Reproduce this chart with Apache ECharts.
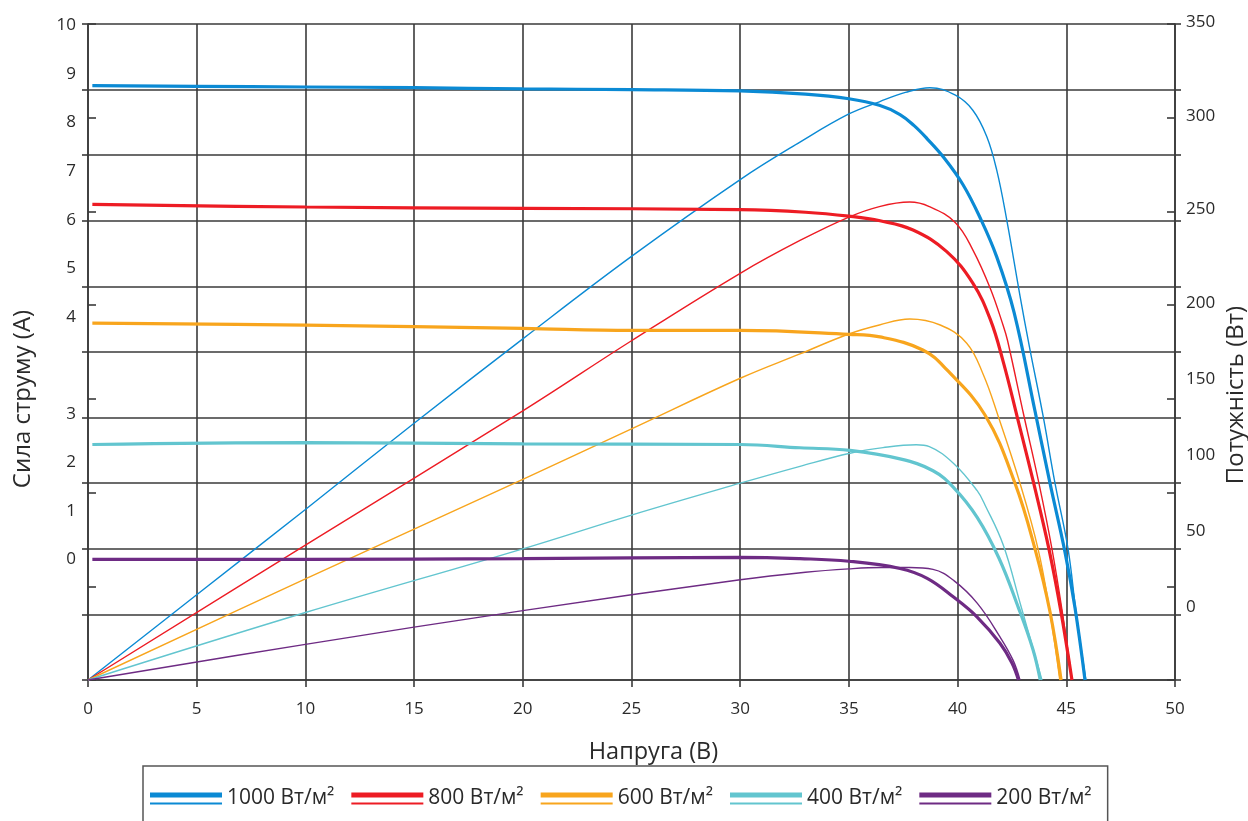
<!DOCTYPE html>
<html><head><meta charset="utf-8">
<script src="https://cdn.jsdelivr.net/npm/echarts@6/dist/echarts.min.js"></script>
<style>html,body{margin:0;padding:0;background:#fff}#c{width:1248px;height:821px}</style>
</head><body><div id="c"></div><script>
// ---- data ----
const irradiance = ['1000 Вт/м²', '800 Вт/м²', '600 Вт/м²', '400 Вт/м²', '200 Вт/м²'];
const colors = ['#0b8ad4', '#ed1c24', '#f8a51d', '#62c5cf', '#6e2b84'];

// current (A) vs voltage (V)
const current1000 = [[0.2,9.06],[5,9.05],[10,9.04],[15,9.03],[20,9.01],[25,9.0],[30,8.98],[33,8.93],[35,8.86],[36.4,8.76],[37.35,8.62],[38.0,8.45],[38.6,8.25],[39.4,7.95],[40.25,7.55],[41.03,7.05],[41.8,6.45],[42.6,5.6],[43.56,4.1],[44.25,3.0],[44.94,1.95],[45.4,1.1],[45.86,0]];
const current800 = [[0.2,7.25],[10,7.21],[20,7.19],[30,7.17],[33,7.13],[35,7.07],[36.43,7.0],[37.95,6.86],[39.5,6.53],[40.7,6.05],[41.5,5.5],[42.1,4.85],[42.75,4.0],[43.5,3.0],[44.2,2.0],[44.75,1.05],[45.26,0]];
const current600 = [[0.2,5.44],[10,5.41],[20,5.36],[25,5.33],[30,5.33],[35,5.27],[36.43,5.23],[38.4,5.03],[39.5,4.73],[41.26,4.04],[42.64,3.0],[43.56,2.0],[44.25,1.04],[44.76,0]];
const current400 = [[0.2,3.59],[10,3.62],[20,3.6],[30,3.59],[32.75,3.54],[35.05,3.5],[37.35,3.37],[38.87,3.19],[39.83,2.93],[40.9,2.48],[41.9,1.86],[42.8,1.1],[43.47,0.46],[43.8,0]];
const current200 = [[0.2,1.84],[10,1.84],[20,1.85],[30,1.87],[32.75,1.85],[35,1.81],[37.35,1.7],[38.6,1.55],[39.83,1.26],[40.9,0.96],[41.95,0.56],[42.5,0.26],[42.8,0]];

// power (W) vs voltage (V)
const power1000 = [[0,0],[5,45.5],[10,91],[15,137],[20,182],[25,226],[30,267],[32.75,287],[35,302],[36.4,308.5],[37.6,313.5],[38.73,316],[39.9,312],[40.7,304],[41.34,290],[41.8,272],[42.26,245.5],[42.87,205],[43.3,178],[43.93,141],[44.48,105],[45.08,70],[45.45,36],[45.9,0]];
const power800 = [[0,0],[10,72],[20,143.6],[25,181],[30,217],[32.75,234.5],[35,247],[36.4,252.6],[37.8,255],[38.7,252.6],[39.9,244],[40.7,229.5],[41.5,209],[42.1,189],[42.3,181],[43.05,141],[43.74,105],[44.34,70],[44.82,36],[45.26,0]];
const power600 = [[0,0],[10,54],[20,107],[25,134],[30,161],[32.75,174],[35,184.6],[36.4,189.4],[37.8,192.6],[39.2,189.4],[40.42,179.7],[41.18,163],[41.86,141],[42.87,105],[43.7,70],[44.25,36],[44.7,0]];
const power400 = [[0,0],[10,36],[20,70],[25,88],[30,105],[32.75,114],[35.05,121],[36.57,124],[38.1,125.5],[38.7,124.5],[39.83,115.4],[40.9,101],[41.26,93.4],[42.1,72],[42.9,40],[43.88,0]];
const power200 = [[0,0],[10,19],[20,37],[30,53.5],[33,57.5],[35,59.3],[36.5,60],[37.8,60],[38.87,59],[39.83,53],[40.9,41],[41.95,23],[42.55,10.6],[42.87,0]];

// tick labels as printed in the reference (they sit in two groups on each side)
const leftTicksUpper = [4, 5, 6, 7, 8, 9, 10];
const leftTicksLower = [0, 1, 2, 3];
const rightTicksUpper = [200, 250, 300, 350];
const rightTicksLower = [0, 50, 100, 150];
const voltageRange = [0, 50];
const currentRange = [0, 10];
const powerRange = [0, 350];

const currents = [current1000, current800, current600, current400, current200];
const powers = [power1000, power800, power600, power400, power200];

// ---- chart ----
const F = '"Open Sans", "Liberation Sans", sans-serif';
const TXT = '#2a2a2a';
const gl = { color: '#3a3a3a', width: 1.6 };
const none = { show: false };

function labelAxis(grid, ticks, pos, margin) {
  return {
    gridIndex: grid, type: 'value', position: pos,
    min: Math.min(...ticks), max: Math.max(...ticks), interval: ticks[1] - ticks[0],
    axisLine: none, axisTick: none, splitLine: none,
    axisLabel: { margin: margin, fontFamily: F, fontSize: 17, color: TXT }
  };
}
function hiddenX(grid) { return { gridIndex: grid, type: 'value', show: false, min: 0, max: 1 }; }
function grid(top, height) {
  return { left: 88, top: top, width: 1087, height: height, containLabel: false, outerBoundsMode: 'none' };
}

const series = [];
irradiance.forEach((name, i) => {
  series.push({
    name: name, type: 'line', xAxisIndex: 0, yAxisIndex: 0, data: currents[i],
    smooth: 0.4, symbol: 'none', showSymbol: false, z: 4,
    itemStyle: { color: colors[i] }, lineStyle: { color: colors[i], width: 3.2 }
  });
  series.push({
    name: 'P ' + name, type: 'line', xAxisIndex: 0, yAxisIndex: 1, data: powers[i],
    smooth: 0.4, symbol: 'none', showSymbol: false, z: 3,
    itemStyle: { color: colors[i] }, lineStyle: { color: colors[i], width: 1.4 }
  });
});

const option = {
  animation: false,
  backgroundColor: '#fff',
  grid: [grid(24, 656), grid(25, 292), grid(414, 145), grid(22, 281), grid(379, 228)],
  xAxis: [
    {
      gridIndex: 0, type: 'value', min: voltageRange[0], max: voltageRange[1], interval: 5,
      name: 'Напруга (В)', nameLocation: 'middle', nameGap: 60,
      nameTextStyle: { fontFamily: F, fontSize: 23.5, color: TXT, padding: [0, 0, 0, 44] },
      axisLine: { show: true, onZero: false, lineStyle: gl },
      axisTick: { show: true, length: 7, lineStyle: gl },
      splitLine: { show: true, lineStyle: gl },
      axisLabel: { margin: 21, fontFamily: F, fontSize: 17, color: TXT }
    },
    hiddenX(1), hiddenX(2), hiddenX(3), hiddenX(4)
  ],
  yAxis: [
    {
      gridIndex: 0, type: 'value', position: 'left', min: currentRange[0], max: currentRange[1], interval: 1,
      name: 'Сила струму (А)', nameLocation: 'middle', nameRotate: 90, nameGap: 53,
      nameTextStyle: { fontFamily: F, fontSize: 24, color: TXT, padding: [0, 94, 0, 0] },
      axisLine: { show: true, onZero: false, lineStyle: gl },
      axisTick: { show: true, length: 6, lineStyle: gl },
      axisLabel: none,
      splitLine: { show: true, lineStyle: gl }
    },
    {
      gridIndex: 0, type: 'value', position: 'right', min: powerRange[0], max: powerRange[1], interval: 50,
      name: 'Потужність (Вт)', nameLocation: 'middle', nameRotate: 90, nameGap: 49,
      nameTextStyle: { fontFamily: F, fontSize: 24, color: TXT, padding: [0, 86, 0, 0] },
      axisLine: { show: true, onZero: false, lineStyle: gl },
      axisTick: { show: true, inside: true, length: 8, lineStyle: gl },
      axisLabel: none, splitLine: none
    },
    {
      gridIndex: 0, type: 'value', position: 'right', min: powerRange[0], max: powerRange[1], interval: 50,
      axisLine: none, axisTick: { show: true, length: 8, lineStyle: gl }, axisLabel: none, splitLine: none
    },
    {
      gridIndex: 0, type: 'value', position: 'right', min: currentRange[0], max: currentRange[1], interval: 1,
      axisLine: none, axisTick: { show: true, length: 6, lineStyle: gl }, axisLabel: none, splitLine: none
    },
    labelAxis(1, leftTicksUpper, 'left', 12),
    labelAxis(2, leftTicksLower, 'left', 12),
    labelAxis(3, rightTicksUpper, 'right', 11),
    labelAxis(4, rightTicksLower, 'right', 11)
  ],
  legend: {
    data: irradiance,
    left: 143, top: 766,
    padding: [22, 16, 40, 7],
    borderColor: '#555', borderWidth: 1.5,
    itemGap: 17, itemWidth: 72, itemHeight: 12,
    icon: 'path://M0,0H72V5H0Z M0,10H72V12H0Z',
    itemStyle: { borderWidth: 0 },
    textStyle: { fontFamily: F, fontSize: 21, color: TXT }
  },
  series: series
};

const chart = echarts.init(document.getElementById('c'), null, { renderer: 'canvas' });
chart.setOption(option);
</script></body></html>
